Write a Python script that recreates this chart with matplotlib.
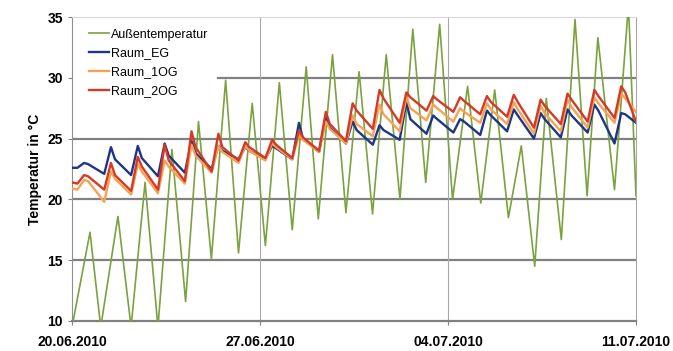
import pandas as pd
import matplotlib.pyplot as plt
import matplotlib.dates as mdates

plt.rcParams['font.family'] = ['Liberation Sans', 'DejaVu Sans']

start = pd.Timestamp('2010-06-20')

# Aussentemperatur: Tageshoch/-tief, Zeit in Tagen ab 20.06.2010 00:00
aussen_tage = [0, 0.67, 1.07, 1.71, 2.2, 2.72, 3.2, 3.72, 4.23, 4.71, 5.19, 5.72, 6.2, 6.71,
               7.2, 7.72, 8.2, 8.72, 9.17, 9.7, 10.2, 10.69, 11.19, 11.7, 12.21, 12.69, 13.17,
               13.69, 14.17, 14.73, 15.22, 15.74, 16.25, 16.73, 17.23, 17.66, 18.22, 18.73,
               19.18, 19.58, 20.2, 20.72, 21]
aussen_temp = [9.5, 17.3, 9.5, 18.6, 9.5, 21.4, 9.5, 24.1, 11.6, 26.4, 15.1, 29.8, 15.6, 27.9,
               16.2, 29.6, 17.5, 30.9, 18.4, 31.9, 18.9, 30.5, 18.8, 31.9, 20.0, 34.0, 21.4,
               34.4, 20.0, 29.3, 19.7, 29.0, 18.5, 24.4, 14.5, 28.3, 16.7, 34.8, 20.3, 33.3,
               20.8, 36.0, 20.3]

# Raeume: je Tag (Minimum morgens, Spitze vormittags, Wert danach)
tag_zeiten = [0.2, 0.45, 0.6]

eg_tag = [(22.6, 23.0, 22.9), (22.1, 24.3, 23.3), (22.0, 24.4, 23.4), (21.9, 24.6, 23.6),
          (22.2, 24.8, 23.8), (22.5, 24.4, 24.0), (23.3, 24.3, 24.0), (23.3, 24.4, 24.2),
          (23.3, 26.3, 25.0), (23.9, 26.9, 25.9), (24.6, 26.4, 25.7), (24.5, 26.1, 25.7),
          (24.9, 28.0, 26.6), (25.4, 26.9, 26.6), (25.5, 26.6, 26.4), (25.3, 27.3, 26.9),
          (25.6, 27.4, 26.9), (25.0, 27.1, 26.6), (25.1, 27.4, 26.9), (25.5, 27.8, 27.3),
          (24.6, 27.1, 27.0)]
eg_rand = (22.6, 26.3)

og1_tag = [(20.8, 21.6, 21.5), (19.8, 22.3, 21.7), (20.4, 22.9, 22.3), (20.5, 23.2, 22.7),
           (21.3, 24.5, 23.6), (22.2, 24.4, 23.9), (23.0, 24.4, 24.0), (23.2, 24.6, 24.3),
           (23.3, 25.3, 24.9), (23.9, 26.4, 25.8), (24.6, 26.9, 26.2), (25.2, 27.8, 27.0),
           (25.6, 28.4, 27.5), (26.5, 27.8, 27.5), (26.4, 27.5, 27.2), (26.3, 27.9, 27.4),
           (26.2, 28.0, 27.4), (25.4, 27.7, 27.1), (25.6, 28.2, 27.6), (25.9, 28.4, 27.9),
           (26.3, 28.7, 28.3)]
og1_rand = (20.9, 27.2)

og2_tag = [(21.3, 22.0, 21.9), (20.8, 23.0, 22.0), (20.7, 23.5, 22.7), (20.8, 24.5, 23.2),
           (21.5, 25.6, 24.3), (22.3, 25.4, 24.3), (23.2, 24.7, 24.3), (23.4, 24.9, 24.5),
           (23.4, 25.7, 25.1), (24.0, 27.2, 26.2), (24.8, 27.9, 27.3), (25.8, 29.0, 28.3),
           (26.3, 28.8, 28.4), (27.3, 28.5, 28.2), (27.2, 28.4, 28.1), (27.0, 28.5, 28.0),
           (26.8, 28.6, 28.0), (25.9, 28.2, 27.7), (26.2, 28.7, 28.2), (26.4, 29.0, 28.5),
           (26.7, 29.3, 28.8)]
og2_rand = (21.4, 26.4)


def raum_reihe(tage, rand):
    werte = [rand[0]] + [v for tag in tage for v in tag] + [rand[1]]
    zeiten = [0] + [d + f for d in range(len(tage)) for f in tag_zeiten] + [len(tage)]
    return start + pd.to_timedelta(zeiten, unit='D'), werte


fig = plt.figure(figsize=(6.73, 3.51), dpi=100)
ax = fig.add_axes([0.107, 0.0855, 0.838, 0.866])

ax.plot(start + pd.to_timedelta(aussen_tage, unit='D'), aussen_temp,
        color='#7aa23e', lw=1.2, label='Außentemperatur', zorder=3)
x, y = raum_reihe(eg_tag, eg_rand)
ax.plot(x, y, color='#1f3585', lw=1.7, label='Raum_EG', zorder=4)
x, y = raum_reihe(og1_tag, og1_rand)
ax.plot(x, y, color='#f5a257', lw=1.7, label='Raum_1OG', zorder=5)
x, y = raum_reihe(og2_tag, og2_rand)
ax.plot(x, y, color='#d43a24', lw=1.7, label='Raum_2OG', zorder=6)

for v in (15, 20, 25):
    ax.axhline(v, color='#808080', lw=1.6, zorder=1)
# die 30er-Linie beginnt erst rechts der Legende
ax.axhline(30, xmin=0.259, color='#808080', lw=1.6, zorder=1)
for k in (7, 14):
    ax.axvline(start + pd.Timedelta(days=k), color='#a8a8a8', lw=0.8, zorder=1)

ax.set_xlim(start, start + pd.Timedelta(days=21))
ax.set_ylim(10, 35)
ax.set_yticks(range(10, 36, 5))
ax.set_xticks([start + pd.Timedelta(days=k) for k in (0, 7, 14, 21)])
ax.xaxis.set_major_formatter(mdates.DateFormatter('%d.%m.%Y'))
ax.tick_params(labelsize=10, length=3, color='#808080')
ax.tick_params(axis='x', pad=7)
for lab in ax.get_xticklabels() + ax.get_yticklabels():
    lab.set_fontweight('bold')
ax.set_ylabel('Temperatur in °C', fontsize=10, fontweight='bold', labelpad=4)

ax.spines['bottom'].set_color('#808080')
ax.spines['bottom'].set_linewidth(1.6)
ax.spines['left'].set_color('#909090')
ax.spines['right'].set_color('#a8a8a8')
ax.spines['right'].set_linewidth(0.8)
ax.spines['top'].set_color('#d8d8d8')
ax.spines['top'].set_linewidth(0.8)

leg = ax.legend(loc='upper left', bbox_to_anchor=(0.012, 0.995), fontsize=9, frameon=False,
                handlelength=1.6, handletextpad=0.15, labelspacing=0.56, borderpad=0.3)
leg.set_zorder(10)

plt.savefig('out.png', dpi=100)
